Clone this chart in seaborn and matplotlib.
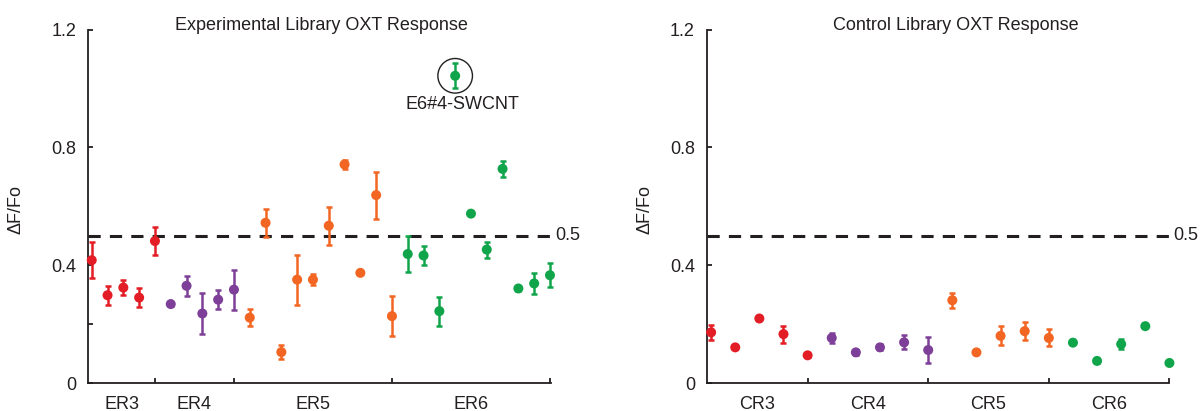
import numpy as np
import pandas as pd
import matplotlib
matplotlib.use("Agg")
import matplotlib.pyplot as plt
import seaborn as sns

# ---------------- data ----------------
exp_groups = ["ER3", "ER4", "ER5", "ER6"]
exp_er3_mean = [0.417, 0.298, 0.324, 0.290, 0.482]
exp_er3_err = [0.061, 0.032, 0.026, 0.031, 0.049]
exp_er4_mean = [0.268, 0.330, 0.236, 0.283, 0.317]
exp_er4_err = [0.005, 0.034, 0.068, 0.033, 0.068]
exp_er5_mean = [0.222, 0.544, 0.105, 0.351, 0.351, 0.534, 0.742, 0.374, 0.638, 0.227]
exp_er5_err = [0.029, 0.047, 0.023, 0.085, 0.019, 0.065, 0.015, 0.005, 0.080, 0.069]
exp_er6_mean = [0.438, 0.433, 0.244, 1.043, 0.575, 0.453, 0.727, 0.321, 0.338, 0.366]
exp_er6_err = [0.060, 0.033, 0.049, 0.042, 0.005, 0.027, 0.026, 0.008, 0.037, 0.040]

ctl_groups = ["CR3", "CR4", "CR5", "CR6"]
ctl_cr3_mean = [0.172, 0.121, 0.219, 0.166, 0.094]
ctl_cr3_err = [0.025, 0.005, 0.005, 0.029, 0.004]
ctl_cr4_mean = [0.153, 0.104, 0.121, 0.138, 0.112]
ctl_cr4_err = [0.018, 0.008, 0.010, 0.024, 0.045]
ctl_cr5_mean = [0.281, 0.104, 0.160, 0.176, 0.153]
ctl_cr5_err = [0.025, 0.005, 0.032, 0.031, 0.029]
ctl_cr6_mean = [0.137, 0.075, 0.132, 0.193, 0.068]
ctl_cr6_err = [0.005, 0.006, 0.018, 0.004, 0.004]

group_colors = ["#E31D25", "#7D3F97", "#F26522", "#10A54A"]
threshold = 0.5
highlight_group = "ER6"
highlight_index = 3
highlight_label = "E6#4-SWCNT"

exp_title = "Experimental Library OXT Response"
ctl_title = "Control Library OXT Response"
y_label = "ΔF/Fo"

# ---------------- style ----------------
sns.set_theme(style="ticks")
plt.rcParams["font.family"] = ["Liberation Sans", "DejaVu Sans"]
INK = "#231F20"
FS = 13


def build_df(groups, means, errs):
    rows = []
    pos = 1
    for g, m, e in zip(groups, means, errs):
        for i, (mv, ev) in enumerate(zip(m, e)):
            rows.append({"pos": pos, "val": mv, "err": ev, "group": g, "idx": i})
            pos += 1
    return pd.DataFrame(rows)


def draw(ax, groups, means, errs, xlim, yticks, yticklabels, title, title_x,
         ylabel_x):
    df = build_df(groups, means, errs)
    pal = dict(zip(groups, group_colors))
    ax.axhline(threshold, color=INK, lw=2.2, ls=(0, (4, 3)), zorder=1)
    for g in groups:
        sub = df[df["group"] == g]
        eb = ax.errorbar(sub["pos"], sub["val"], yerr=sub["err"], fmt="none",
                         ecolor=pal[g], elinewidth=1.8, capsize=2.3,
                         capthick=1.8, zorder=2)
        for art in eb.lines[1] + eb.lines[2]:
            art.set_clip_on(False)
    sns.scatterplot(data=df, x="pos", y="val", hue="group", palette=pal,
                    s=52, edgecolor="none", linewidth=0, legend=False, ax=ax,
                    zorder=3, clip_on=False)
    ax.set_xlim(*xlim)
    ax.set_ylim(0, 1.2)
    # group boundaries and label positions
    sizes = [len(m) for m in means]
    bounds = np.cumsum(sizes).astype(float)
    lefts = np.concatenate([[xlim[0]], bounds[:-1]])
    mids = (lefts + bounds) / 2
    ax.set_xticks(bounds)
    ax.set_xticklabels([""] * len(bounds))
    ax.set_xticks(mids, minor=True)
    ax.set_xticklabels(groups, minor=True)
    ax.tick_params(axis="x", which="major", direction="in", length=3.6,
                   width=1.3, color=INK)
    ax.tick_params(axis="x", which="minor", length=0, pad=9.5,
                   labelsize=FS, labelcolor=INK)
    ax.set_yticks(yticks)
    ax.set_yticklabels(yticklabels)
    ax.tick_params(axis="y", direction="in", length=3.6, width=1.3, color=INK,
                   pad=8.5, labelsize=FS, labelcolor=INK)
    for side in ["left", "bottom"]:
        ax.spines[side].set_linewidth(1.3)
        ax.spines[side].set_color(INK)
    sns.despine(ax=ax)
    ax.set_xlabel("")
    ax.set_ylabel(y_label, fontsize=FS, color=INK)
    ax.yaxis.set_label_coords(ylabel_x, 0.49)
    ax.text(title_x, 1.0, title, transform=ax.transAxes, ha="center",
            va="baseline", fontsize=FS, color=INK)
    ax.text(1.009, threshold, "0.5", transform=ax.get_yaxis_transform(),
            ha="left", va="center", fontsize=FS, color=INK)
    return df


fig = plt.figure(figsize=(12.02, 4.11), dpi=100)
fig.patch.set_facecolor("white")
ax1 = fig.add_axes([0.0735, 0.0681, 0.3847, 0.860])
ax2 = fig.add_axes([0.588, 0.0681, 0.3849, 0.860])

df_exp = draw(ax1, exp_groups,
              [exp_er3_mean, exp_er4_mean, exp_er5_mean, exp_er6_mean],
              [exp_er3_err, exp_er4_err, exp_er5_err, exp_er6_err],
              (0.785, 30.05), [0, 0.2, 0.4, 0.8, 1.2],
              ["0", "", "0.4", "0.8", "1.2"], exp_title, 0.505, -0.137)

draw(ax2, ctl_groups,
     [ctl_cr3_mean, ctl_cr4_mean, ctl_cr5_mean, ctl_cr6_mean],
     [ctl_cr3_err, ctl_cr4_err, ctl_cr5_err, ctl_cr6_err],
     (0.82, 20.0), [0, 0.4, 0.8, 1.2], ["0", "0.4", "0.8", "1.2"],
     ctl_title, 0.538, -0.115)

# highlighted sensor
hl = df_exp[(df_exp["group"] == highlight_group) & (df_exp["idx"] == highlight_index)].iloc[0]
ax1.scatter([hl["pos"]], [hl["val"]], s=620, facecolors="none",
            edgecolors=INK, linewidths=1.0, zorder=4)
ax1.annotate(highlight_label, xy=(hl["pos"], hl["val"]), xytext=(5, -24.2),
             textcoords="offset points", ha="center", va="baseline",
             fontsize=FS, color=INK)

fig.savefig("out.png", dpi=100, facecolor="white")
